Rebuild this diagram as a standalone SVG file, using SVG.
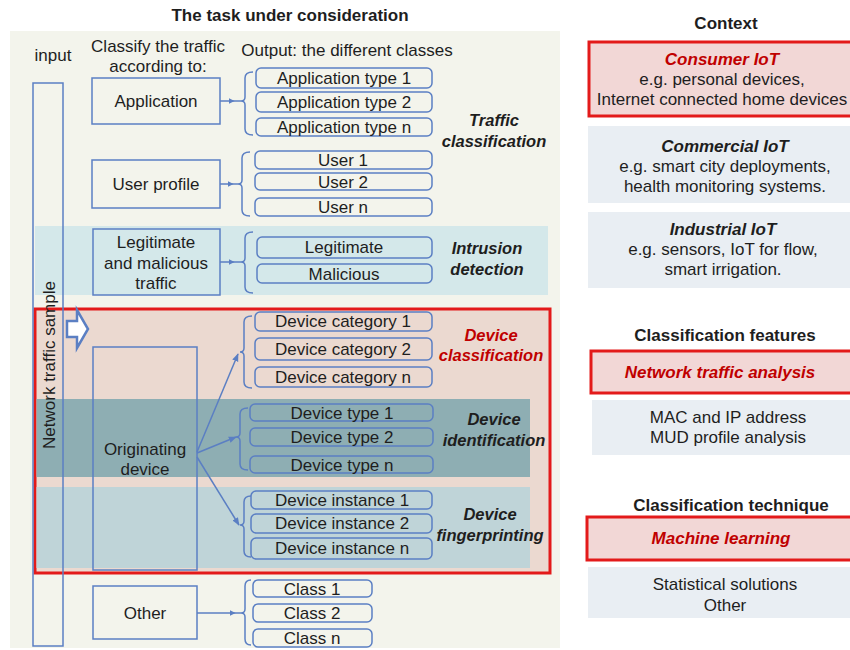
<svg xmlns="http://www.w3.org/2000/svg" width="850" height="650" viewBox="0 0 850 650">
<style>
text{font-family:"Liberation Sans",Arial,sans-serif;fill:#1e1e1e;font-size:17px;text-anchor:middle}
.t{font-size:17px;font-weight:bold}
.h{font-size:17px;font-weight:bold}
.bi{font-weight:bold;font-style:italic;font-size:16.5px}
.red{fill:#c00000}
.r{font-size:17px}
.box{fill:none;stroke:#5b7fc3;stroke-width:1.5}
.out{fill:none;stroke:#5b7fc3;stroke-width:1.5}
.br{fill:none;stroke:#5b7fc3;stroke-width:1.5}
.ln{fill:none;stroke:#5b7fc3;stroke-width:1.5}
</style>
<defs>
<marker id="ah" viewBox="0 0 10 10" refX="9" refY="5" markerWidth="6" markerHeight="6" markerUnits="userSpaceOnUse" orient="auto"><path d="M0,0 L10,5 L0,10 z" fill="#5b7fc3"/></marker>
<marker id="ah2" viewBox="0 0 10 10" refX="9" refY="5" markerWidth="8" markerHeight="8" markerUnits="userSpaceOnUse" orient="auto"><path d="M0,1 L10,5 L0,9 z" fill="#5b7fc3"/></marker>
</defs>
<rect x="0" y="0" width="850" height="650" fill="#ffffff"/>
<rect x="10" y="31" width="550" height="617" fill="#f3f4ec"/>
<rect x="35" y="226" width="513" height="69" fill="#d4e8ea"/>
<g id="device-region">
<rect x="35" y="309" width="515" height="264" fill="#ebd9d0" stroke="#e31a1a" stroke-width="3"/>
<rect x="36.5" y="399" width="493.5" height="78" fill="#8eaeb3"/>
<rect x="36.5" y="487" width="493.5" height="81" fill="#bfd4d8"/>
</g>
<text class="t" x="290" y="21">The task under consideration</text>
<text x="53" y="61">input</text>
<text x="158" y="52">Classify the traffic</text>
<text x="158" y="72">according to:</text>
<text x="347" y="56">Output: the different classes</text>
<g id="input-sample">
<rect class="box" x="33" y="83" width="30" height="563"/>
<text transform="translate(55,365) rotate(-90)">Network traffic sample</text>
</g>
<g id="hollow-arrow">
<path d="M67,321 H77 V310 L88,329 L77,348 V337 H67 Z" fill="#ffffff" stroke="#5b7fc3" stroke-width="2.5" stroke-linejoin="miter"/>
</g>
<g id="application"><rect class="box" x="92" y="78" width="128" height="46"/><text x="156" y="107">Application</text></g>
<g id="user-profile"><rect class="box" x="92" y="160" width="128" height="48"/><text x="156" y="190">User profile</text></g>
<g id="legit-malicious"><rect class="box" x="93" y="229" width="127" height="66"/><text x="156" y="248">Legitimate</text><text x="156" y="269">and malicious</text><text x="156" y="289">traffic</text></g>
<g id="originating-device"><rect class="box" x="93" y="347" width="104" height="223"/><text x="145" y="455">Originating</text><text x="145" y="475">device</text></g>
<g id="other"><rect class="box" x="93" y="586" width="104" height="53"/><text x="145" y="619">Other</text></g>
<g id="app-types">
<rect class="out" x="256" y="68" width="176" height="20" rx="5"/><text x="344" y="84">Application type 1</text>
<rect class="out" x="256" y="92" width="176" height="20" rx="5"/><text x="344" y="108">Application type 2</text>
<rect class="out" x="256" y="118" width="176" height="18" rx="5"/><text x="344" y="133">Application type n</text>
</g>
<g id="users">
<rect class="out" x="255" y="151" width="177" height="18" rx="5"/><text x="343" y="166">User 1</text>
<rect class="out" x="255" y="173" width="177" height="17" rx="5"/><text x="343" y="188">User 2</text>
<rect class="out" x="255" y="198" width="177" height="18" rx="5"/><text x="343" y="213">User n</text>
</g>
<text class="bi" x="494" y="126">Traffic</text>
<text class="bi" x="494" y="147">classification</text>
<g id="intrusion-outputs">
<rect class="out" x="257" y="237" width="175" height="21" rx="5"/><text x="344" y="253">Legitimate</text>
<rect class="out" x="257" y="264" width="175" height="19" rx="5"/><text x="344" y="280">Malicious</text>
</g>
<text class="bi" x="487" y="254">Intrusion</text>
<text class="bi" x="487" y="275">detection</text>
<g id="device-categories">
<rect class="out" x="255" y="312" width="177" height="19" rx="5"/><text x="343" y="327">Device category 1</text>
<rect class="out" x="255" y="338" width="177" height="22" rx="5"/><text x="343" y="355">Device category 2</text>
<rect class="out" x="255" y="367" width="177" height="20" rx="5"/><text x="343" y="383">Device category n</text>
</g>
<text class="bi red" x="491" y="341">Device</text>
<text class="bi red" x="491" y="361">classification</text>
<g id="device-types">
<rect class="out" x="250" y="404" width="183" height="17" rx="5"/><text x="342" y="419">Device type 1</text>
<rect class="out" x="250" y="428" width="183" height="18" rx="5"/><text x="342" y="443">Device type 2</text>
<rect class="out" x="250" y="456" width="183" height="17" rx="5"/><text x="342" y="471">Device type n</text>
</g>
<text class="bi" x="494" y="425">Device</text>
<text class="bi" x="494" y="446">identification</text>
<g id="device-instances">
<rect class="out" x="251" y="491" width="181" height="18" rx="5"/><text x="342" y="506">Device instance 1</text>
<rect class="out" x="251" y="514" width="181" height="19" rx="5"/><text x="342" y="529">Device instance 2</text>
<rect class="out" x="251" y="538" width="181" height="21" rx="5"/><text x="342" y="554">Device instance n</text>
</g>
<text class="bi" x="490" y="520">Device</text>
<text class="bi" x="490" y="541">fingerprinting</text>
<g id="classes">
<rect class="out" x="253" y="580" width="119" height="17" rx="5"/><text x="312" y="595">Class 1</text>
<rect class="out" x="253" y="604" width="119" height="18" rx="5"/><text x="312" y="619">Class 2</text>
<rect class="out" x="253" y="629" width="119" height="18" rx="5"/><text x="312" y="644">Class n</text>
</g>
<g id="connectors">
<path class="br" d="M253,72 Q245,72 245,78 V97 Q245,101 241,101 Q245,101 245,105 V129 Q245,135 253,135"/>
<path class="ln" d="M220,101 L234,101 L241,101" marker-mid="url(#ah)"/>
<path class="br" d="M250,152 Q242,152 242,158 V180 Q242,184 238,184 Q242,184 242,188 V210 Q242,216 250,216"/>
<path class="ln" d="M220,184 L233,184 L238,184" marker-mid="url(#ah)"/>
<path class="br" d="M253,232 Q245,232 245,238 V258 Q245,262 241,262 Q245,262 245,266 V287 Q245,293 253,293"/>
<path class="ln" d="M220,262 L234,262 L241,262" marker-mid="url(#ah)"/>
<path class="br" d="M252,316 Q244,316 244,322 V348 Q244,352 240,352 Q244,352 244,356 V382 Q244,388 252,388"/>
<path class="br" d="M248,408 Q240,408 240,414 V433 Q240,437 236,437 Q240,437 240,441 V464 Q240,470 248,470"/>
<path class="br" d="M251,496 Q244,496 244,502 V521 Q244,525 240,525 Q244,525 244,529 V551 Q244,557 251,557"/>
<path class="br" d="M251,580 Q245,580 245,586 V609 Q245,613 241,613 Q245,613 245,617 V639 Q245,645 251,645"/>
<path class="ln" d="M197,613 L235,613 L241,613" marker-mid="url(#ah)"/>
<path class="ln" d="M197,452 L238,354" marker-end="url(#ah2)"/>
<path class="ln" d="M197,453 L236,437" marker-end="url(#ah2)"/>
<path class="ln" d="M197,457 L239,525" marker-end="url(#ah2)"/>
</g>
<text class="h" x="726" y="29">Context</text>
<g id="consumer-iot">
<rect x="589" y="42" width="265" height="74" fill="#f2d7d6" stroke="#e31a1a" stroke-width="3"/>
<text class="bi red r" x="722" y="65">Consumer IoT</text>
<text class="r" x="722" y="85">e.g. personal devices,</text>
<text class="r" x="722" y="105">Internet connected home devices</text>
</g>
<g id="commercial-iot">
<rect x="588" y="126" width="264" height="77" fill="#e9eef3"/>
<text class="bi r" x="725" y="152">Commercial IoT</text>
<text class="r" x="725" y="172">e.g. smart city deployments,</text>
<text class="r" x="725" y="192">health monitoring systems.</text>
</g>
<g id="industrial-iot">
<rect x="588" y="212" width="264" height="76" fill="#e9eef3"/>
<text class="bi r" x="723" y="235">Industrial IoT</text>
<text class="r" x="723" y="255">e.g. sensors, IoT for flow,</text>
<text class="r" x="723" y="275">smart irrigation.</text>
</g>
<text class="h" x="725" y="341">Classification features</text>
<g id="network-traffic-analysis">
<rect x="591" y="351" width="263" height="42" fill="#f2d7d6" stroke="#e31a1a" stroke-width="3"/>
<text class="bi red r" x="720" y="378">Network traffic analysis</text>
</g>
<g id="mac-mud">
<rect x="592" y="400" width="260" height="55" fill="#e9eef3"/>
<text class="r" x="728" y="423">MAC and IP address</text>
<text class="r" x="728" y="443">MUD profile analysis</text>
</g>
<text class="h" x="731" y="511">Classification technique</text>
<g id="machine-learning">
<rect x="587" y="517" width="267" height="43" fill="#f2d7d6" stroke="#e31a1a" stroke-width="3"/>
<text class="bi red r" x="721" y="544">Machine learning</text>
</g>
<g id="statistical">
<rect x="588" y="567" width="264" height="51" fill="#e9eef3"/>
<text class="r" x="725" y="590">Statistical solutions</text>
<text class="r" x="725" y="611">Other</text>
</g>
</svg>
